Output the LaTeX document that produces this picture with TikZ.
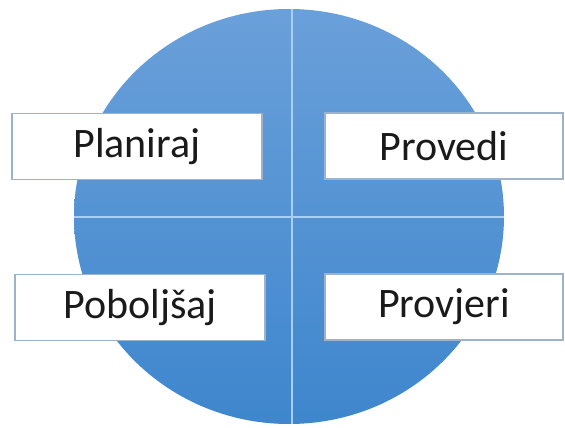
\documentclass[tikz,border=0pt]{standalone}
\usepackage{fontspec}
\setmainfont{Carlito}
\usepackage{tikz}
\usetikzlibrary{shapes.geometric, positioning}
\definecolor{cycletop}{HTML}{6AA0DA}
\definecolor{cyclebottom}{HTML}{3E86CD}
\definecolor{crossline}{HTML}{A9CFF2}
\definecolor{boxline}{HTML}{9DB3CB}
\definecolor{labeltext}{HTML}{1A1A1A}
\tikzset{
  cycle/.style={
    ellipse, draw=none, top color=cycletop, bottom color=cyclebottom,
    minimum width=430pt, minimum height=415pt, inner sep=0pt
  },
  phase/.style={
    rectangle, draw=boxline, line width=1.2pt, fill=white,
    minimum height=66pt, inner sep=0pt,
    font=\fontsize{42}{46}\selectfont, text=labeltext
  },
  divider/.style={draw=crossline, line width=1.6pt}
}
\begin{document}
\begin{tikzpicture}[x=1pt, y=-1pt]
  \useasboundingbox (0,0) rectangle (565,428);
  \node[cycle] (pdca) at (289,216.5) {};

  \draw[divider] ([xshift=3pt]pdca.north) -- ([xshift=3pt]pdca.south);
  \draw[divider] ([yshift=-0.5pt]pdca.west) -- ([yshift=-0.5pt]pdca.east);

  \node[phase, minimum width=250pt] (plan) at (137,146.5) {Planiraj};
  \node[phase, minimum width=238pt] (do) at (444,146) {Provedi};
  \node[phase, minimum width=250pt] (act) at (140,307.5) {Poboljšaj};
  \node[phase, minimum width=238pt] (check) at (444,307) {Provjeri};
\end{tikzpicture}
\end{document}
